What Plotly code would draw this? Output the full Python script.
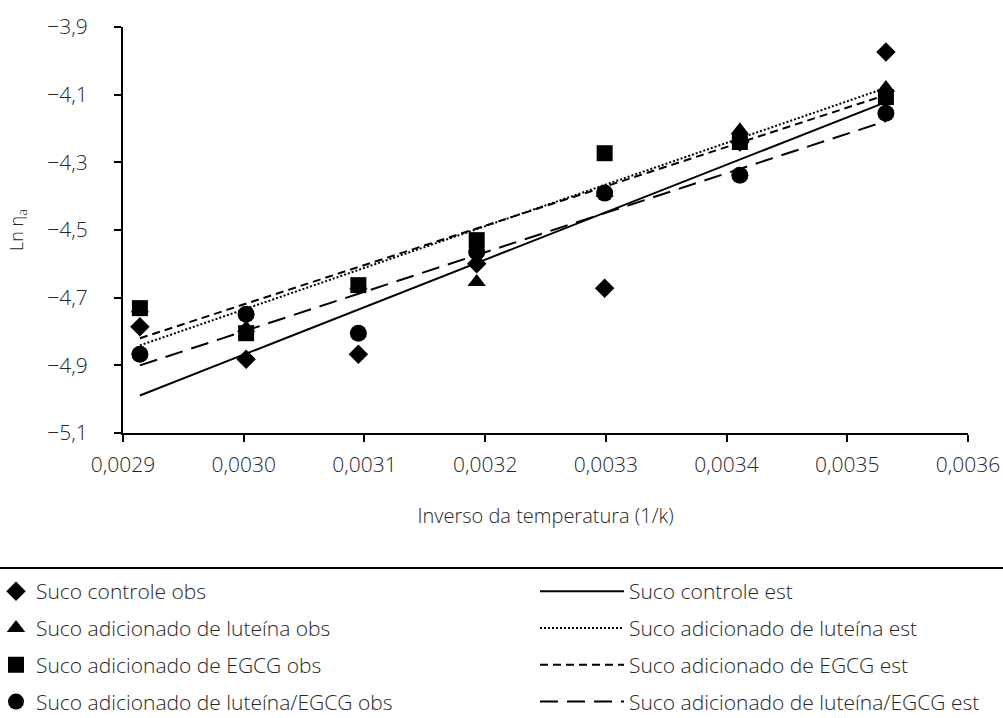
import plotly.graph_objects as go

# Inverse temperature (1/K)
x_inv = [0.002914, 0.003002, 0.003095, 0.003193, 0.003299, 0.003411, 0.003532]

# Observed Ln(eta_a)
controle_obs = [-4.786, -4.882, -4.867, -4.600, -4.672, -4.240, -3.974]
luteina_obs = [-4.731, -4.790, -4.663, -4.654, -4.390, -4.205, -4.080]
egcg_obs = [-4.731, -4.805, -4.663, -4.530, -4.273, -4.240, -4.107]
lut_egcg_obs = [-4.867, -4.749, -4.805, -4.565, -4.391, -4.338, -4.155]

# Estimated lines (endpoints)
x_est = [0.002914, 0.003532]
controle_est = [-4.989, -4.122]
luteina_est = [-4.841, -4.080]
egcg_est = [-4.820, -4.101]
lut_egcg_est = [-4.900, -4.178]

obs_names = ["Suco controle obs", "Suco adicionado de luteína obs",
             "Suco adicionado de EGCG obs", "Suco adicionado de luteína/EGCG obs"]
est_names = ["Suco controle est", "Suco adicionado de luteína est",
             "Suco adicionado de EGCG est", "Suco adicionado de luteína/EGCG est"]

x_ticks = [0.0029, 0.0030, 0.0031, 0.0032, 0.0033, 0.0034, 0.0035, 0.0036]
x_ticktext = ["0,0029", "0,0030", "0,0031", "0,0032", "0,0033", "0,0034", "0,0035", "0,0036"]
y_ticks = [-3.9, -4.1, -4.3, -4.5, -4.7, -4.9, -5.1]
y_ticktext = ["\u22123,9", "\u22124,1", "\u22124,3", "\u22124,5", "\u22124,7", "\u22124,9", "\u22125,1"]

FONT = "Open Sans"
TXT = "#262626"
WT = 300

fig = go.Figure()

est_data = [controle_est, luteina_est, egcg_est, lut_egcg_est]
est_dash = ["solid", "2px,2px", "8px,5px", "18px,9px"]
for i, (ys, d) in enumerate(zip(est_data, est_dash)):
    fig.add_trace(go.Scatter(
        x=x_est, y=ys, mode="lines", name=est_names[i],
        line=dict(color="black", width=2, dash=d),
        legend="legend2", legendgroup="e%d" % i))

obs_data = [controle_obs, luteina_obs, egcg_obs, lut_egcg_obs]
symbols = ["diamond", "triangle-up", "square", "circle"]
sizes = [15, 16, 16, 17]
for i, (ys, s, sz) in enumerate(zip(obs_data, symbols, sizes)):
    fig.add_trace(go.Scatter(
        x=x_inv, y=ys, mode="markers", name=obs_names[i],
        marker=dict(symbol=s, size=sz, color="black", line=dict(width=0)),
        legend="legend", legendgroup="o%d" % i))

W, H = 1003, 718
L, R, T, B = 123, 35, 27, 285
pw = W - L - R
ph = H - T - B

LEG_TOP = 571
LEG_FS = 21
fig.update_layout(
    width=W, height=H,
    margin=dict(l=L, r=R, t=T, b=B, autoexpand=False),
    paper_bgcolor="white", plot_bgcolor="white",
    font=dict(family=FONT, size=20, color=TXT, weight=WT),
    xaxis=dict(range=[0.0029, 0.0036], tickvals=x_ticks, ticktext=x_ticktext,
               showgrid=False, zeroline=False, showline=True, linecolor="black",
               linewidth=2, ticks="outside", ticklen=7, tickwidth=2, tickcolor="black",
               tickfont=dict(size=21, color=TXT, weight=WT), ticklabelstandoff=5,
               automargin=False,
               title=dict(text="Inverso da temperatura (1/k)",
                          font=dict(size=20, color=TXT, weight=WT), standoff=32)),
    yaxis=dict(range=[-5.1, -3.9], tickvals=y_ticks, ticktext=y_ticktext,
               showgrid=False, zeroline=False, showline=True, linecolor="black",
               linewidth=2, ticks="outside", ticklen=7, tickwidth=2, tickcolor="black",
               tickfont=dict(size=21, color=TXT, weight=WT), ticklabelstandoff=22,
               automargin=False),
    annotations=[dict(text="Ln \u03b7<sub>a</sub>", textangle=-90, showarrow=False,
                      xref="paper", yref="paper", x=(17 - L) / pw, y=0.5,
                      xanchor="center", yanchor="middle",
                      font=dict(size=18, color=TXT, weight=WT))],
    legend=dict(x=(-4 - L) / pw, y=(H - B - LEG_TOP) / ph, xanchor="left", yanchor="top",
                bgcolor="rgba(0,0,0,0)", font=dict(size=LEG_FS, color=TXT, weight=WT),
                tracegroupgap=6.5, itemwidth=30, traceorder="grouped"),
    legend2=dict(x=(535 - L) / pw, y=(H - B - LEG_TOP) / ph, xanchor="left", yanchor="top",
                 bgcolor="rgba(0,0,0,0)", font=dict(size=LEG_FS, color=TXT, weight=WT),
                 tracegroupgap=6.5, itemwidth=84, traceorder="grouped"),
    shapes=[dict(type="line", xref="paper", yref="paper",
                 x0=(0 - L) / pw, x1=(W - L) / pw,
                 y0=(H - B - 568) / ph, y1=(H - B - 568) / ph,
                 line=dict(color="black", width=2))],
)

fig.write_html("out.html", config={"displayModeBar": False},
               post_script="document.body.style.margin='0';")
